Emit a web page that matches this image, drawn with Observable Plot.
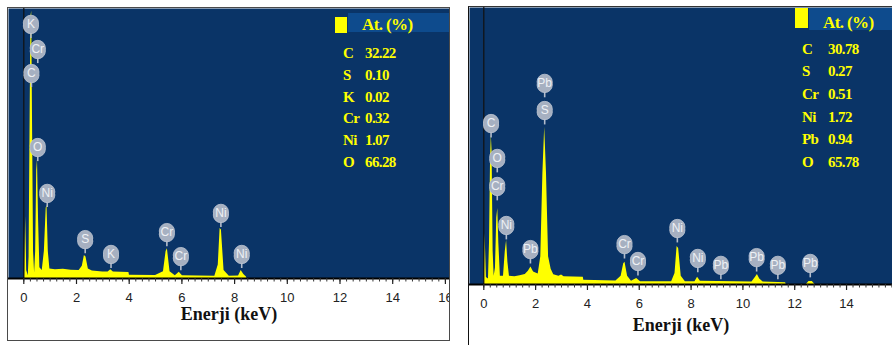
<!DOCTYPE html>
<html><head><meta charset="utf-8">
<script src="https://cdn.jsdelivr.net/npm/d3@7"></script>
<script src="https://cdn.jsdelivr.net/npm/@observablehq/plot@0.6"></script>
<style>
html,body{margin:0;padding:0;background:#fff;}
#wrap{position:relative;width:892px;height:345px;overflow:hidden;background:#fff;}
.panel{position:absolute;}
.panel svg{overflow:hidden !important;display:block;background:transparent !important;max-width:none !important;}
.frame{position:absolute;box-sizing:border-box;pointer-events:none;}
.leg{position:absolute;color:#ffff00;font-family:"Liberation Serif","Times New Roman",serif;font-weight:bold;font-size:15px;line-height:1;white-space:nowrap;letter-spacing:-0.6px;transform:translateY(-50%);}
.sq{position:absolute;background:#ffff00;}
.band{position:absolute;background:#0e4b8d;}
</style>
</head><body>
<div id="wrap"></div>
<script>
// ---------- Data ----------
// Left spectrum: energy (keV) and relative intensity (% of plot height)
const leftEnergy = [0.00,0.03,0.07,0.11,0.17,0.20,0.24,0.27,0.30,0.33,0.37,0.41,0.45,0.49,0.52,0.56,0.61,0.70,0.78,0.85,0.88,0.93,0.99,1.20,1.50,1.80,2.10,2.22,2.30,2.36,2.45,2.60,3.00,3.20,3.30,3.40,3.99,4.01,5.00,5.30,5.40,5.45,5.55,5.75,5.90,6.02,7.25,7.38,7.45,7.50,7.60,7.80,8.15,8.25,8.35,8.45,8.47];
const leftCounts = [0,0,23,3,1,8,60,97,99,60,10,2,10,40,44,22,4,3,10,26,27,10,3.5,3.2,3.4,3.1,3.0,4.5,8.5,8,3.5,2.8,2.4,2.4,3.2,2.4,2.2,1.2,1.1,2.5,10,11,2.5,1.0,2.3,1.0,0.8,5,18.5,18,3,0.8,0.9,3,1.5,0.6,0];
const leftPeakElements = ["K","Cr","C","O","Ni","S","K","Cr","Cr","Ni","Ni"];
const leftPeakEnergy = [0.27,0.53,0.29,0.53,0.89,2.33,3.31,5.43,5.96,7.48,8.27];
const leftPeakLabelY = [94.1,84.8,75.9,48.5,31.5,14.4,8.9,17.0,8.1,24.1,8.9];
const leftLegendElements = ["C","S","K","Cr","Ni","O"];
const leftLegendValues = ["32.22","0.10","0.02","0.32","1.07","66.28"];

// Right spectrum
const rightEnergy = [0.00,0.02,0.05,0.10,0.18,0.22,0.26,0.29,0.32,0.36,0.40,0.45,0.50,0.54,0.58,0.64,0.76,0.83,0.88,0.93,0.99,1.20,1.40,1.60,1.72,1.82,1.92,2.10,2.20,2.28,2.35,2.42,2.50,2.60,2.70,2.90,3.00,3.10,3.84,3.86,5.10,5.30,5.40,5.45,5.55,5.70,5.90,6.05,7.25,7.38,7.46,7.52,7.62,7.78,8.15,8.25,8.36,10.35,10.48,10.56,10.65,10.78,11.65,11.67,12.45,12.55,12.68,12.78];
const rightCounts = [0,0,18.4,2.5,2,15,45,54,48,12,3,6,24,27.4,15,3,3,12,15.9,8,3,2.8,3.2,3.6,4.8,6.3,4.5,3.8,10,40,56.8,40,10,5.5,3.5,3,3.4,2.8,2.6,1.5,1.3,3,7.5,8,3,1.2,2.2,1,1,4,13.7,13,3,1,1,2.6,1.2,0.9,2.5,3.6,2,0.9,0.6,0,0,1.1,1.1,0];
const rightPeakElements = ["Pb","S","C","O","Cr","Ni","Pb","Cr","Cr","Ni","Ni","Pb","Pb","Pb","Pb"];
const rightPeakEnergy = [2.35,2.35,0.28,0.52,0.52,0.87,1.80,5.43,5.95,7.47,8.26,9.15,10.53,11.35,12.60];
const rightPeakLabelY = [72.6,62.8,58.1,45.5,35.4,21.3,12.6,14.4,8.3,20.2,9.4,6.9,9.7,6.9,7.6];
const rightLegendElements = ["C","S","Cr","Ni","Pb","O"];
const rightLegendValues = ["30.78","0.27","0.51","1.72","0.94","65.78"];

const majorTicks = [0,2,4,6,8,10,12,14,16];
const legendTitle = "At. (%)";
const axisTitle = "Enerji (keV)";

// ---------- Drawing ----------
const wrap = document.getElementById("wrap");
const SANS = "'Liberation Sans Narrow','Liberation Sans',Arial,sans-serif";
const SERIF = "'Liberation Serif','Times New Roman',serif";

function spectrumPanel({energy, counts, els, ex, ey, width, height, marginBottom, xDomain, titleDy}) {
  const spectrum = energy.map((e, i) => ({e, c: counts[i]}));
  const labels = els.map((el, i) => ({el, e: ex[i], y: ey[i]}));
  const minor = d3.range(0, 16.01, 0.25).filter(t => t >= xDomain[0] && t <= xDomain[1]);
  const major = majorTicks.filter(t => t >= xDomain[0] && t <= xDomain[1] + 0.2);
  return Plot.plot({
    width, height,
    marginTop: 0, marginRight: 0, marginLeft: 0, marginBottom,
    x: {domain: xDomain, label: null},
    y: {domain: [0, 100], axis: null, label: null},
    style: {background: "transparent", overflow: "hidden"},
    marks: [
      Plot.frame({fill: "#0a3467", stroke: null}),
      Plot.areaY(spectrum, {x: "e", y: "c", fill: "#ffff00", curve: "linear"}),
      Plot.ruleX([0], {stroke: "#111", strokeWidth: 1.2}),
      Plot.ruleX(labels, {x: "e", y1: "y", y2: d => d.y - 5.2, stroke: "#b3bccb", strokeWidth: 1.6}),
      Plot.dot(labels, {x: "e", y: "y", r: 7.6, dy: -1.6, fill: "#a6b0c1", stroke: "#bfc7d3", strokeWidth: 0.8}),
      Plot.dot(labels, {x: "e", y: "y", r: 7.6, dy: 1.6, fill: "#a6b0c1", stroke: "#bfc7d3", strokeWidth: 0.8}),
      Plot.dot(labels, {x: "e", y: "y", r: 7.4, fill: "#a6b0c1"}),
      Plot.text(labels, {x: "e", y: "y", text: "el", fill: "#eef1f5", fontSize: 12, fontFamily: "'Liberation Sans',Arial,sans-serif"}),
      Plot.ruleY([0], {stroke: "#000", strokeWidth: 2}),
      Plot.axisX(minor, {tickSize: 3.5, tickFormat: () => "", stroke: "#333", strokeWidth: 1}),
      Plot.axisX(major, {tickSize: 6, tickPadding: 8, fontSize: 13, fontFamily: SANS, fill: "#222", stroke: "#222", strokeWidth: 1.2, tickFormat: d => String(d)}),
      Plot.text([axisTitle], {frameAnchor: "bottom", dy: titleDy, fontSize: 18, fontWeight: "bold", fontFamily: SERIF, fill: "#111"})
    ]
  });
}

function place(node, left, top) {
  const d = document.createElement("div");
  d.className = "panel";
  d.style.left = left + "px";
  d.style.top = top + "px";
  d.appendChild(node);
  wrap.appendChild(d);
}

// left panel: plot area x 8..449, y 8..278; 0 keV at 23.3px, 26.35 px/keV
place(spectrumPanel({
  energy: leftEnergy, counts: leftCounts, els: leftPeakElements, ex: leftPeakEnergy, ey: leftPeakLabelY,
  width: 441, height: 332, marginBottom: 62,
  xDomain: [(8 - 23.3) / 26.35, (449 - 23.3) / 26.35], titleDy: 41
}), 8, 8);

// right panel: plot area x 469..892, y 7..284; 0 keV at 483.3px, 25.91 px/keV
place(spectrumPanel({
  energy: rightEnergy, counts: rightCounts, els: rightPeakElements, ex: rightPeakEnergy, ey: rightPeakLabelY,
  width: 423, height: 338, marginBottom: 61,
  xDomain: [(469 - 483.3) / 25.91, (892 - 483.3) / 25.91], titleDy: 46
}), 469, 7);

// frames
const f1 = document.createElement("div");
f1.className = "frame";
Object.assign(f1.style, {left: "7px", top: "7px", width: "443px", height: "334px", border: "1.5px solid #4a4a4a"});
wrap.appendChild(f1);
const f2 = document.createElement("div");
f2.className = "frame";
Object.assign(f2.style, {left: "468px", top: "6px", width: "430px", height: "345px", borderLeft: "1.5px solid #111", borderTop: "1.5px solid #333"});
wrap.appendChild(f2);

// legends
function legend({sq, band, titleX, titleY, labX, valX, rowY, els, vals}) {
  const s = document.createElement("div");
  s.className = "sq";
  Object.assign(s.style, {left: sq[0] + "px", top: sq[1] + "px", width: sq[2] + "px", height: sq[3] + "px"});
  wrap.appendChild(s);
  const b = document.createElement("div");
  b.className = "band";
  Object.assign(b.style, {left: band[0] + "px", top: band[1] + "px", width: band[2] + "px", height: band[3] + "px"});
  wrap.appendChild(b);
  const t = document.createElement("div");
  t.className = "leg";
  t.textContent = legendTitle;
  Object.assign(t.style, {left: titleX + "px", top: titleY + "px", fontSize: "17px"});
  wrap.appendChild(t);
  els.forEach((el, i) => {
    const a = document.createElement("div");
    a.className = "leg";
    a.textContent = el;
    Object.assign(a.style, {left: labX + "px", top: rowY[i] + "px"});
    wrap.appendChild(a);
    const v = document.createElement("div");
    v.className = "leg";
    v.textContent = vals[i];
    Object.assign(v.style, {left: valX + "px", top: rowY[i] + "px"});
    wrap.appendChild(v);
  });
}
legend({sq: [335, 17, 12, 16], band: [348, 13, 101, 19], titleX: 362, titleY: 24, labX: 343, valX: 365,
  rowY: [53, 75, 97, 118, 140, 162], els: leftLegendElements, vals: leftLegendValues});
legend({sq: [795, 8, 13, 20], band: [809, 8, 83, 22], titleX: 823, titleY: 22, labX: 802, valX: 828,
  rowY: [49, 71, 94, 117, 139, 162], els: rightLegendElements, vals: rightLegendValues});
</script>
</body></html>
